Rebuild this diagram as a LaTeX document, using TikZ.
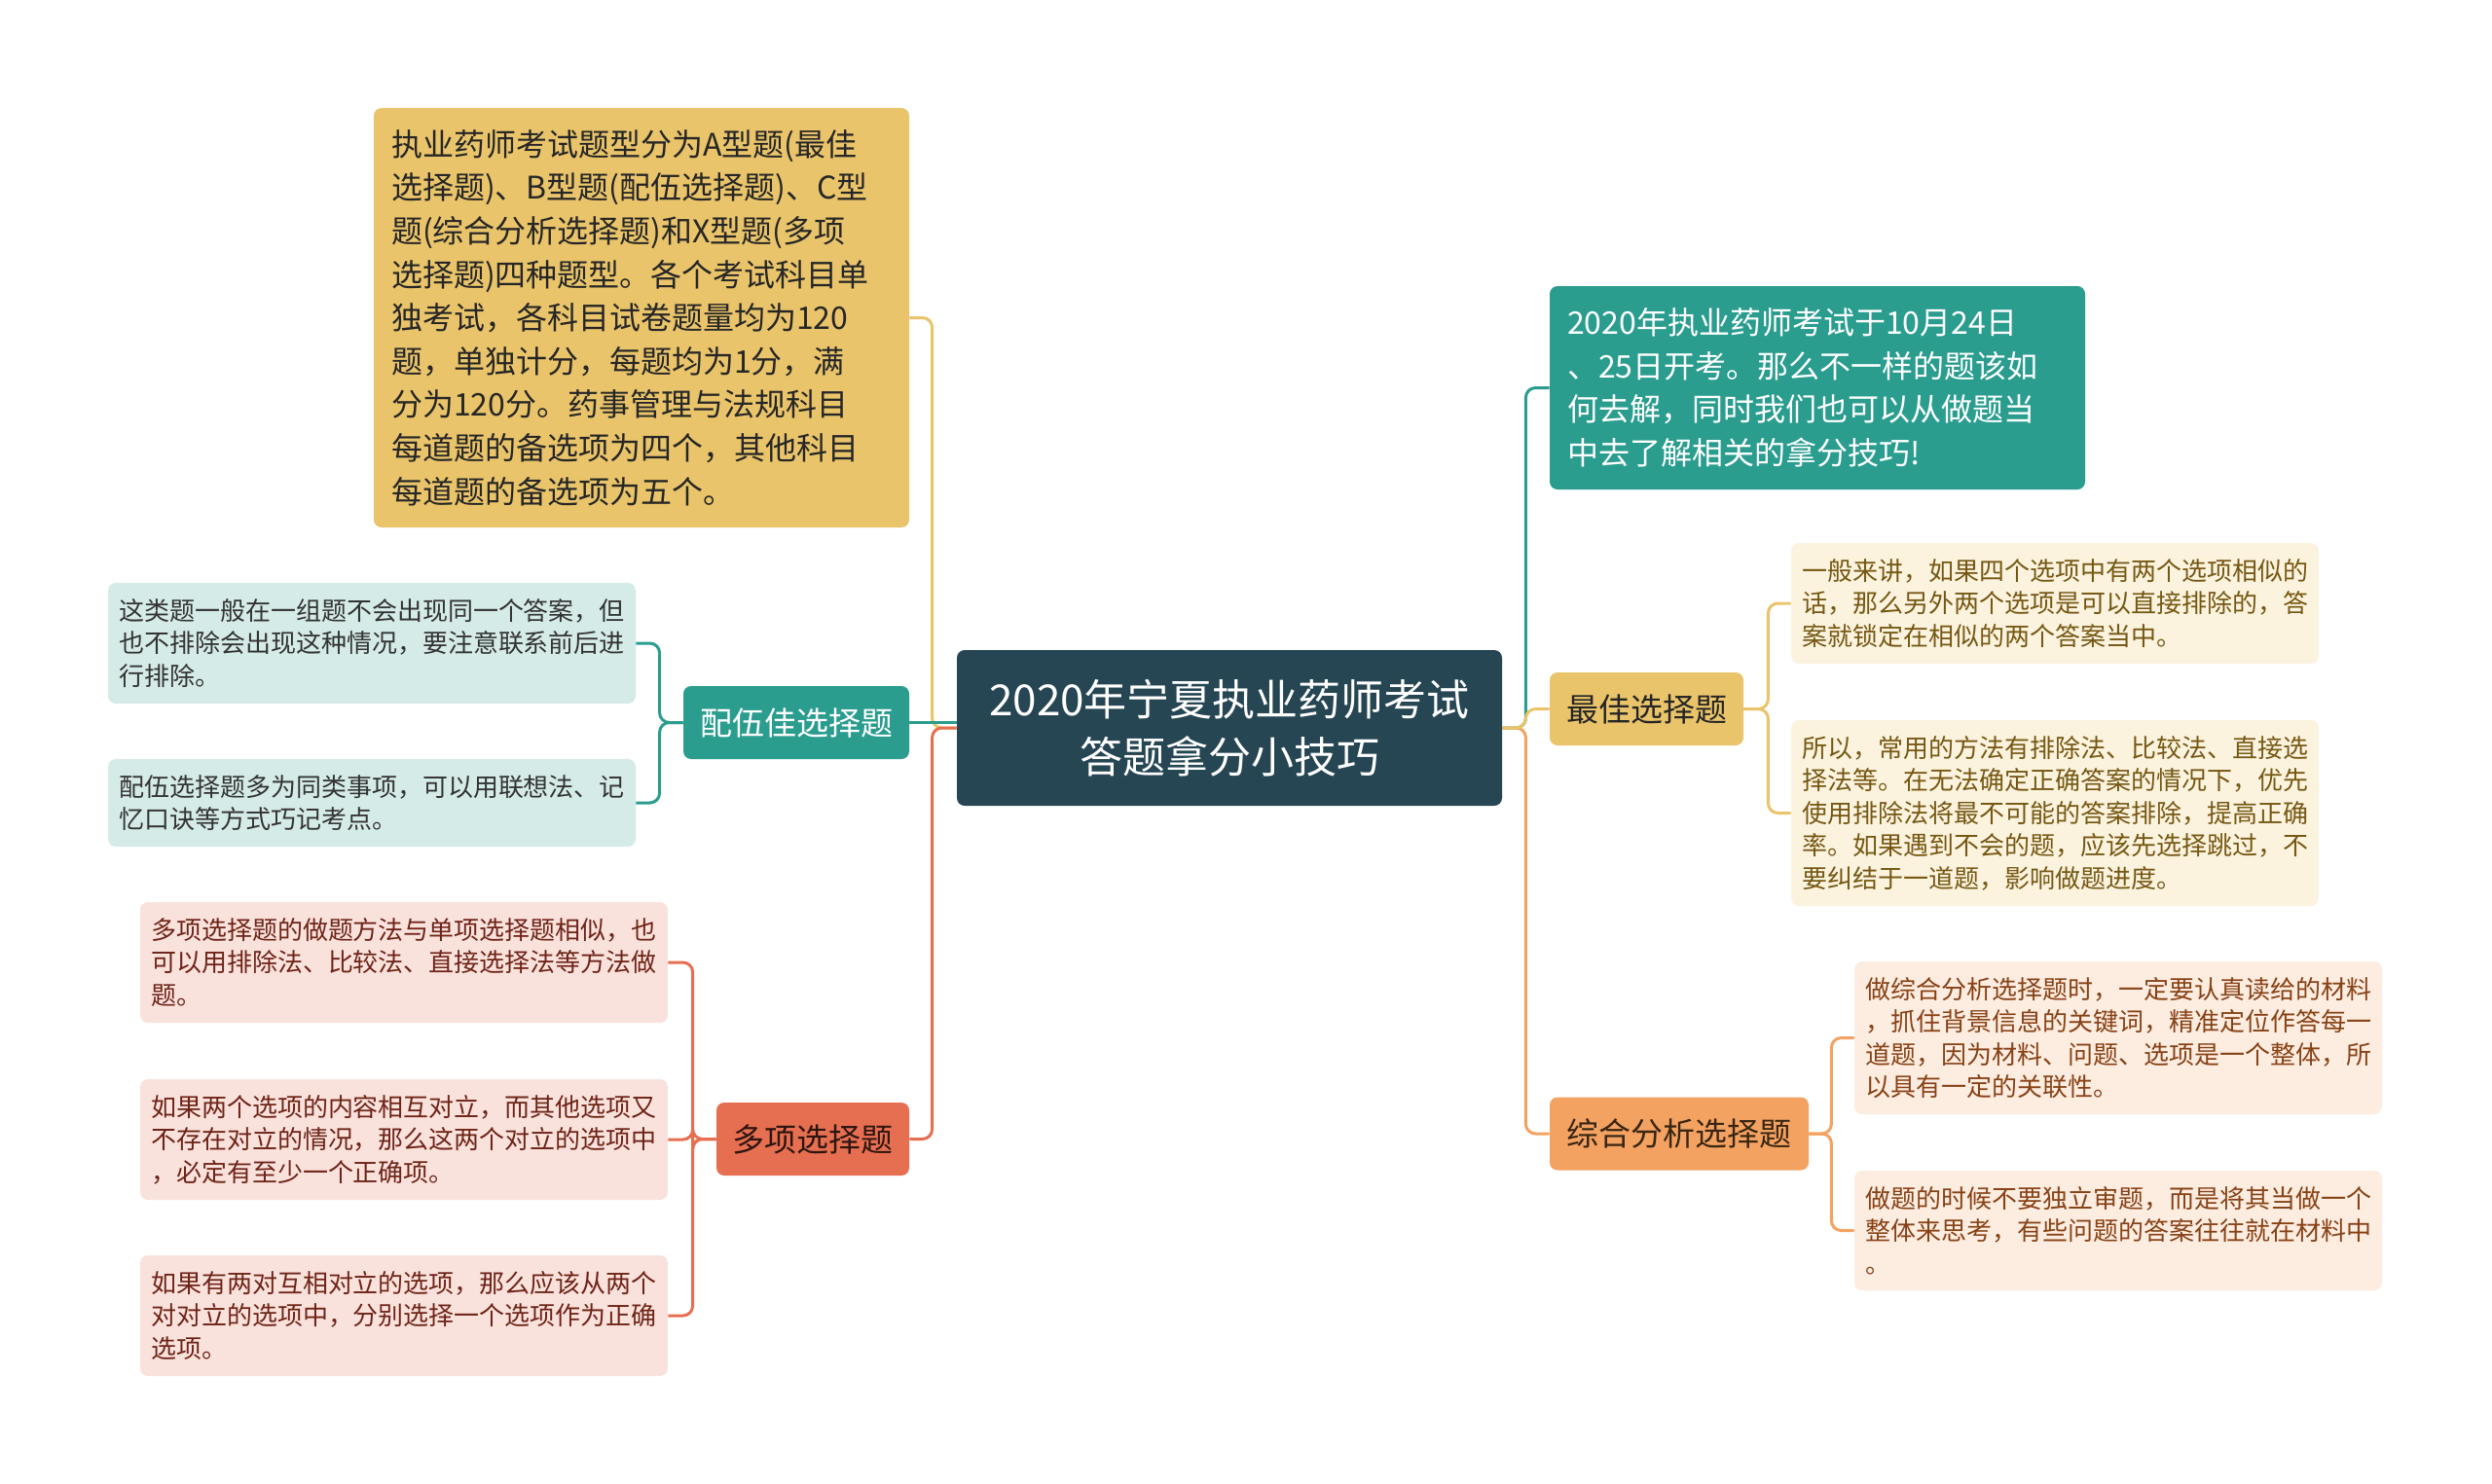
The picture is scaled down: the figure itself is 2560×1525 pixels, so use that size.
\documentclass[tikz,border=0pt]{standalone}
\usepackage{fontspec}
\setmainfont{Noto Sans CJK SC}
\usepackage{tikz}
\usetikzlibrary{calc}
\definecolor{rootc}{RGB}{38,70,83}
\definecolor{yelc}{RGB}{233,196,106}
\definecolor{tealc}{RGB}{42,157,143}
\definecolor{redc}{RGB}{231,111,81}
\definecolor{orc}{RGB}{244,162,97}
\definecolor{tealleaf}{RGB}{213,235,232}
\definecolor{redleaf}{RGB}{250,226,220}
\definecolor{yelleaf}{RGB}{251,243,222}
\definecolor{orleaf}{RGB}{253,236,224}
\definecolor{redtext}{RGB}{110,36,24}
\definecolor{yeltext}{RGB}{118,88,20}
\definecolor{ortext}{RGB}{135,66,22}
\tikzstyle{rootbox}=[rounded corners=4pt, fill=rootc, text=white, align=center, font=\fontsize{22}{29.4}\selectfont, minimum width=280pt, minimum height=80pt]
\tikzstyle{topicbox}=[rounded corners=4pt, align=left, font=\fontsize{16.5}{22}\selectfont, minimum height=37.5pt, inner sep=0pt]
\tikzstyle{notebox}=[rounded corners=4pt, align=left, font=\fontsize{16}{22.3}\selectfont, text width=257pt, inner xsep=9pt, inner ysep=0pt]
\tikzstyle{leafbox}=[rounded corners=4pt, align=left, font=\fontsize{13}{16.75}\selectfont, minimum width=271pt, inner sep=0pt]
\tikzstyle{link}=[line width=1.5pt, rounded corners=5pt]

\begin{document}
\begin{tikzpicture}[x=0.5pt, y=-0.5pt]
\fill[white] (0,0) rectangle (2560,1525);
\useasboundingbox (0,0) rectangle (2560,1525);

%root
    \node[rootbox] (root) at (1263,748) {2020年宁夏执业药师考试\\答题拿分小技巧};

%left side
    \node[notebox, fill=yelc, text=black!85, minimum height=215.5pt] (intro) at (659,326.5)
        {执业药师考试题型分为A型题(最佳\\选择题)、B型题(配伍选择题)、C型\\题(综合分析选择题)和X型题(多项\\选择题)四种题型。各个考试科目单\\独考试，各科目试卷题量均为120\\题，单独计分，每题均为1分，满\\分为120分。药事管理与法规科目\\每道题的备选项为四个，其他科目\\每道题的备选项为五个。};
    \node[topicbox, fill=tealc, text=white, minimum width=116pt] (pw) at (818,742.5) {配伍佳选择题};
    \node[topicbox, fill=redc, text=black!80!redc, minimum width=99pt] (dx) at (835,1170.5) {多项选择题};

    \foreach \pos/\name/\hgt/\label in {{(382,661)/tl1/62/{这类题一般在一组题不会出现同一个答案，但\\也不排除会出现这种情况，要注意联系前后进\\行排除。}}, {(382,825)/tl2/45/{配伍选择题多为同类事项，可以用联想法、记\\忆口诀等方式巧记考点。}}}
        \node[leafbox, fill=tealleaf, text=black!80, minimum height=\hgt pt] (\name) at \pos {\label};

    \foreach \pos/\name/\hgt/\label in {{(415,989)/rl1/62/{多项选择题的做题方法与单项选择题相似，也\\可以用排除法、比较法、直接选择法等方法做\\题。}}, {(415,1171)/rl2/62/{如果两个选项的内容相互对立，而其他选项又\\不存在对立的情况，那么这两个对立的选项中\\，必定有至少一个正确项。}}, {(415,1352)/rl3/62/{如果有两对互相对立的选项，那么应该从两个\\对对立的选项中，分别选择一个选项作为正确\\选项。}}}
        \node[leafbox, fill=redleaf, text=redtext, minimum height=\hgt pt] (\name) at \pos {\label};

%right side
    \node[notebox, fill=tealc, text=white, minimum height=104.5pt] (news) at (1867,398.5)
        {2020年执业药师考试于10月24日\\、25日开考。那么不一样的题该如\\何去解，同时我们也可以从做题当\\中去了解相关的拿分技巧!};
    \node[topicbox, fill=yelc, text=black!85, minimum width=99.5pt] (best) at (1691.5,728.5) {最佳选择题};
    \node[topicbox, fill=orc, text=black!70!brown, minimum width=133pt] (zh) at (1725,1165) {综合分析选择题};

    \foreach \pos/\name/\hgt/\label in {{(2111,620)/yl1/62/{一般来讲，如果四个选项中有两个选项相似的\\话，那么另外两个选项是可以直接排除的，答\\案就锁定在相似的两个答案当中。}}, {(2111,835.5)/yl2/95.5/{所以，常用的方法有排除法、比较法、直接选\\择法等。在无法确定正确答案的情况下，优先\\使用排除法将最不可能的答案排除，提高正确\\率。如果遇到不会的题，应该先选择跳过，不\\要纠结于一道题，影响做题进度。}}}
        \node[leafbox, fill=yelleaf, text=yeltext, minimum height=\hgt pt] (\name) at \pos {\label};

    \foreach \pos/\name/\hgt/\label in {{(2176,1066.5)/pl1/78.5/{做综合分析选择题时，一定要认真读给的材料\\，抓住背景信息的关键词，精准定位作答每一\\道题，因为材料、问题、选项是一个整体，所\\以具有一定的关联性。}}, {(2176,1264.5)/pl2/61.5/{做题的时候不要独立审题，而是将其当做一个\\整体来思考，有些问题的答案往往就在材料中\\。}}}
        \node[leafbox, fill=orleaf, text=ortext, minimum height=\hgt pt] (\name) at \pos {\label};

%main links
    \draw[link, yelc] (root.west) -- ++(-25,0) |- (intro.east);
    \draw[link, redc] (root.west) -- ++(-25,0) |- (dx.east);
    \draw[link, tealc] (pw.east) -- (pw.east -| root.west);
    \draw[link, tealc] (root.east) -- ++(24,0) |- (news.west);
    \draw[link, orc] (root.east) -- ++(24,0) |- (zh.west);
    \draw[link, yelc] (root.east) -- ++(24,0) |- (best.west);

%leaf links
    \foreach \dest in {tl1, tl2}
        \draw[link, tealc] (pw.west) -- ++(-24,0) |- (\dest.east);
    \foreach \dest in {rl1, rl2, rl3}
        \draw[link, redc] (dx.west) -- ++(-24,0) |- (\dest.east);
    \foreach \dest in {yl1, yl2}
        \draw[link, yelc] (best.east) -- ++(25,0) |- (\dest.west);
    \foreach \dest in {pl1, pl2}
        \draw[link, orc] (zh.east) -- ++(23,0) |- (\dest.west);

\end{tikzpicture}
\end{document}
